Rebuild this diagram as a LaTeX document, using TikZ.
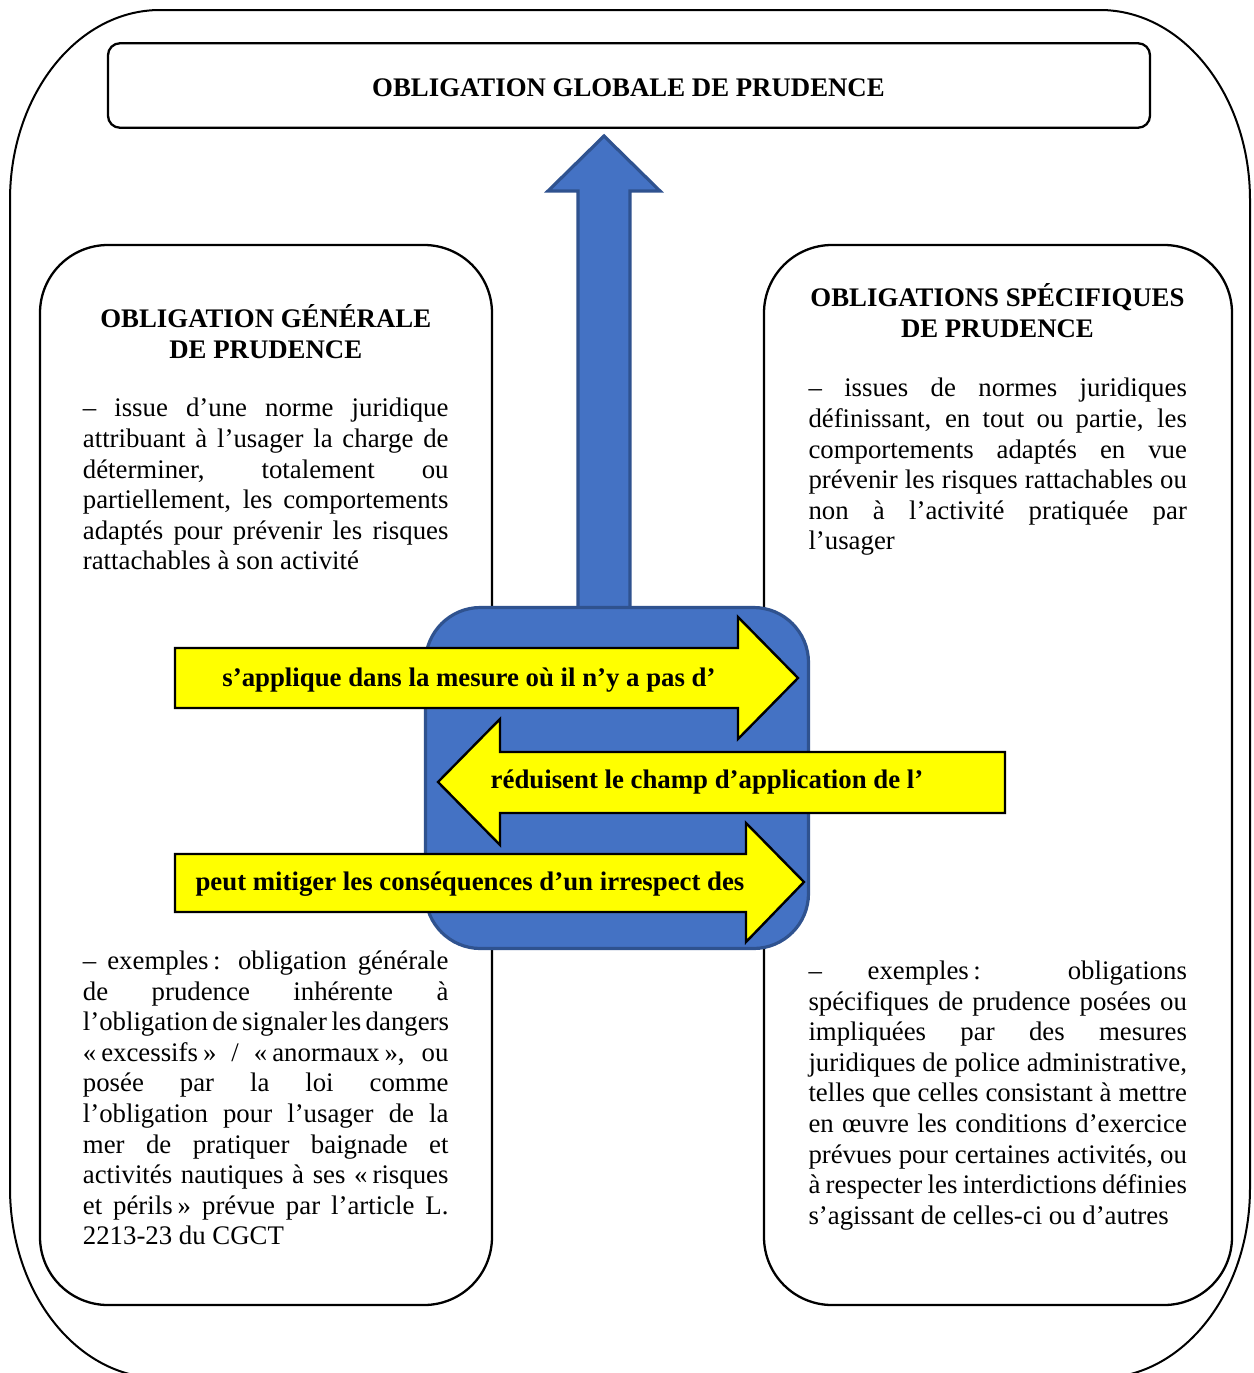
\documentclass[tikz,border=0pt]{standalone}
\usepackage{fontspec}
\setmainfont{Liberation Serif}
\definecolor{officeblue}{HTML}{4472C4}
\definecolor{officeborder}{HTML}{2F528F}
\definecolor{arrowyellow}{HTML}{FFFF00}
\newcommand\jlL[1]{\makebox[365.6pt][s]{#1}\\}
\newcommand\jlR[1]{\makebox[378.4pt][s]{#1}\\}
\begin{document}
\begin{tikzpicture}[x=1pt,y=1pt,
  outerline/.style={draw=black,line width=2pt},
  framebox/.style={draw=black,line width=2.3pt,inner sep=0pt},
  bluepart/.style={fill=officeblue,draw=officeborder,line width=3.2pt,line join=miter},
  yarrow/.style={fill=arrowyellow,draw=black,line width=2.4pt,line join=miter},
  para/.style={inner sep=0pt,anchor=north west,align=left,font=\fontsize{26.8}{30.6}\selectfont},
  headtxt/.style={inner sep=0pt,anchor=north,align=center,font=\bfseries\fontsize{26.8}{30.6}\selectfont},
  arrowtxt/.style={inner sep=0pt,anchor=base,font=\bfseries\fontsize{26.8}{30.6}\selectfont}]
\useasboundingbox (0,0) rectangle (1253,-1373);
\clip (0,0) rectangle (1253,-1373);
% outer frame
\draw[outerline] (10,-200) arc[start angle=180,end angle=90,x radius=150,y radius=190]
  -- (1100,-10) arc[start angle=90,end angle=0,x radius=150,y radius=190]
  -- (1250,-1188) arc[start angle=0,end angle=-90,x radius=150,y radius=190]
  -- (160,-1378) arc[start angle=-90,end angle=-180,x radius=150,y radius=190] -- cycle;
% top box
\node[framebox,rounded corners=12pt,minimum width=1042pt,minimum height=84.5pt] (global) at (629,-85.5) {};
\node[arrowtxt] (globaltxt) at (628.5,-96.5) {OBLIGATION GLOBALE DE PRUDENCE};
% side boxes
\node[framebox,rounded corners=68pt,minimum width=452pt,minimum height=1060pt] (leftbox) at (266,-775) {};
\node[framebox,rounded corners=68pt,minimum width=468pt,minimum height=1060pt] (rightbox) at (998,-775) {};
% blue up arrow
\draw[bluepart] (578,-610) -- (578,-191) -- (548,-191) -- (604,-136) -- (660,-191) -- (630,-191) -- (630,-610) -- cycle;
% blue rounded box
\node[bluepart,rounded corners=55pt,minimum width=383pt,minimum height=341pt,inner sep=0pt] (core) at (617,-778) {};
% yellow arrows
\draw[yarrow] (175,-648) -- (738,-648) -- (738,-617) -- (798,-678) -- (738,-739) -- (738,-708) -- (175,-708) -- cycle;
\draw[yarrow] (1005,-752) -- (500,-752) -- (500,-719) -- (438,-782) -- (500,-845) -- (500,-813) -- (1005,-813) -- cycle;
\draw[yarrow] (175,-854) -- (746,-854) -- (746,-823) -- (804,-882) -- (746,-942) -- (746,-912) -- (175,-912) -- cycle;
\node[arrowtxt] (t1) at (469,-686) {s’applique dans la mesure où il n’y a pas d’};
\node[arrowtxt] (t2) at (707,-788) {réduisent le champ d’application de l’};
\node[arrowtxt] (t3) at (470,-890) {peut mitiger les conséquences d’un irrespect des};
% headings
\node[headtxt] (lhead) at (265.8,-304.6) {\strut OBLIGATION GÉNÉRALE\\DE PRUDENCE};
\node[headtxt] (rhead) at (997.5,-283.6) {\strut OBLIGATIONS SPÉCIFIQUES\\DE PRUDENCE};
% paragraphs
\node[para] (lp1) at (82.7,-395.3) {%
\jlL{\strut– issue d’une norme juridique}
\jlL{attribuant à l’usager la charge de}
\jlL{déterminer, totalement ou}
\jlL{partiellement, les comportements}
\jlL{adaptés pour prévenir les risques}
rattachables à son activité};
\node[para] (rp1) at (808.3,-375.3) {%
\jlR{\strut– issues de normes juridiques}
\jlR{définissant, en tout ou partie, les}
\jlR{comportements adaptés en vue}
\jlR{prévenir les risques rattachables ou}
\jlR{non à l’activité pratiquée par}
l’usager};
\node[para] (lp2) at (82.7,-947.9) {%
\jlL{\strut– exemples\,: obligation générale}
\jlL{de prudence inhérente à}
\jlL{l’obligation de signaler les dangers}
\jlL{«\kern5pt excessifs\kern5pt» / «\kern5pt anormaux\kern5pt», ou}
\jlL{posée par la loi comme}
\jlL{l’obligation pour l’usager de la}
\jlL{mer de pratiquer baignade et}
\jlL{activités nautiques à ses «\kern5pt risques}
\jlL{et périls\kern5pt» prévue par l’article L.}
2213-23 du CGCT};
\node[para] (rp2) at (808.3,-957.9) {%
\jlR{\strut– exemples\,: obligations}
\jlR{spécifiques de prudence posées ou}
\jlR{impliquées par des mesures}
\jlR{juridiques de police administrative,}
\jlR{telles que celles consistant à mettre}
\jlR{en œuvre les conditions d’exercice}
\jlR{prévues pour certaines activités, ou}
\jlR{à respecter les interdictions définies}
s’agissant de celles-ci ou d’autres};
\end{tikzpicture}
\end{document}
